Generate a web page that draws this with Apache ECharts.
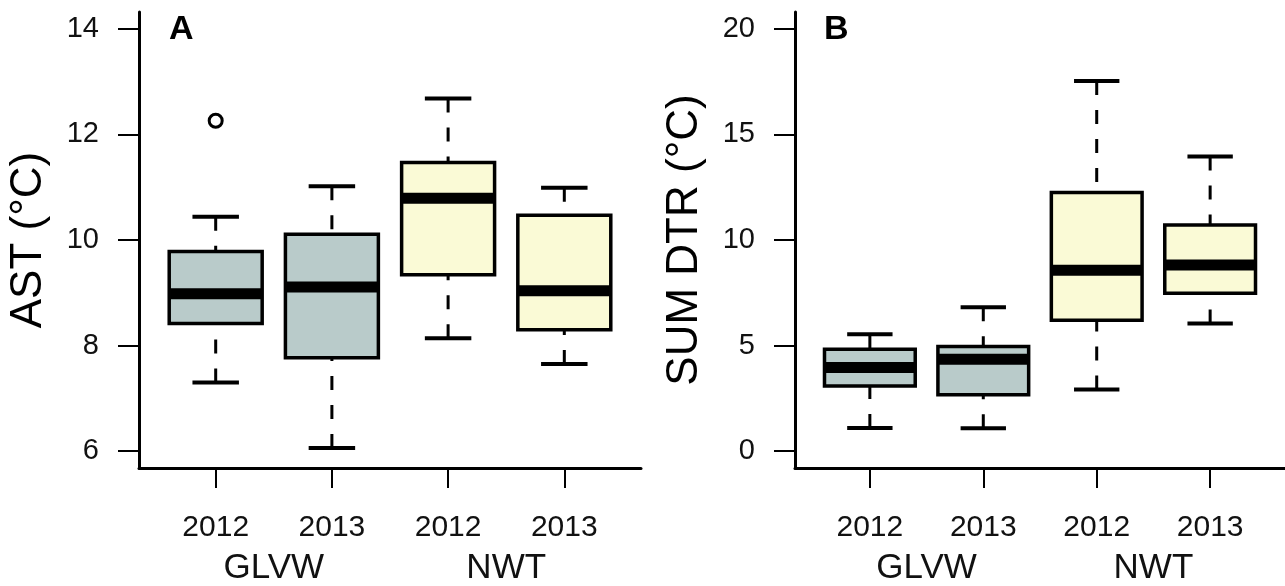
<!DOCTYPE html>
<html><head><meta charset="utf-8">
<script src="https://cdn.jsdelivr.net/npm/echarts@6/dist/echarts.min.js"></script>
<style>html,body{margin:0;padding:0;background:#fff}#c{width:1285px;height:586px}</style>
</head><body><div id="c"></div>
<script>
// ---- data ----
const yearLabels = ['2012', '2013', '2012', '2013'];
const siteLabels = ['GLVW', 'NWT'];
const sitePositions = [1.5, 3.5];
const boxPositions = [1, 2, 3, 4];
// each row: [min, q1, median, q3, max]
const astStats = [
  [7.30, 8.42, 8.98, 9.78, 10.44],
  [6.06, 7.77, 9.11, 10.11, 11.02],
  [8.14, 9.34, 10.79, 11.47, 12.68],
  [7.65, 8.30, 9.04, 10.47, 10.99]
];
const astOutliers = [[1, 12.26]];
const dtrStats = [
  [1.09, 3.08, 3.96, 4.82, 5.53],
  [1.08, 2.67, 4.35, 4.96, 6.82],
  [2.92, 6.20, 8.57, 12.25, 17.53],
  [6.05, 7.48, 8.81, 10.71, 13.96]
];
const dtrOutliers = [];
const astTicks = [6, 8, 10, 12, 14];
const dtrTicks = [0, 5, 10, 15, 20];
const boxColors = ['#b9cbca', '#b9cbca', '#fafad6', '#fafad6'];

// ---- chart ----
const FONT = '"Liberation Sans", Arial, sans-serif';
const chart = echarts.init(document.getElementById('c'), null, {renderer: 'canvas'});

function renderBox(params, api) {
  const x = api.value(0);
  const mn = api.value(1), q1 = api.value(2), md = api.value(3), q3 = api.value(4), mx = api.value(5);
  const tl = api.coord([x - 0.4, q3]);
  const br = api.coord([x + 0.4, q1]);
  const mL = api.coord([x - 0.4, md]);
  const mR = api.coord([x + 0.4, md]);
  const top = api.coord([x, mx]);
  const bot = api.coord([x, mn]);
  const q3p = api.coord([x, q3]);
  const q1p = api.coord([x, q1]);
  const capTL = api.coord([x - 0.2, mx]);
  const capTR = api.coord([x + 0.2, mx]);
  const capBL = api.coord([x - 0.2, mn]);
  const capBR = api.coord([x + 0.2, mn]);
  const dashStyle = {stroke: '#000', lineWidth: 3, lineDash: [14, 15], fill: null};
  const capStyle = {stroke: '#000', lineWidth: 4, fill: null};
  return {
    type: 'group',
    children: [
      {type: 'line', shape: {x1: top[0], y1: top[1], x2: q3p[0], y2: q3p[1]}, style: dashStyle},
      {type: 'line', shape: {x1: bot[0], y1: bot[1], x2: q1p[0], y2: q1p[1]}, style: dashStyle},
      {type: 'line', shape: {x1: capTL[0], y1: capTL[1], x2: capTR[0], y2: capTR[1]}, style: capStyle},
      {type: 'line', shape: {x1: capBL[0], y1: capBL[1], x2: capBR[0], y2: capBR[1]}, style: capStyle},
      {type: 'rect', shape: {x: tl[0], y: tl[1], width: br[0] - tl[0], height: br[1] - tl[1]},
        style: {fill: boxColors[params.dataIndex], stroke: '#000', lineWidth: 3.5}},
      {type: 'line', shape: {x1: mL[0] + 1, y1: mL[1], x2: mR[0] - 1, y2: mR[1]},
        style: {stroke: '#000', lineWidth: 11, fill: null}}
    ]
  };
}

function yAxisCfg(grid, min, max, ticks, name) {
  return {
    gridIndex: grid, type: 'value', min: min, max: max,
    splitLine: {show: false},
    axisLine: {show: true, onZero: false, lineStyle: {color: '#000', width: 3}},
    axisTick: {show: true, length: 21, customValues: ticks, lineStyle: {color: '#000', width: 2}},
    axisLabel: {customValues: ticks, fontSize: 29, color: '#111', margin: 40, fontFamily: FONT},
    name: name, nameLocation: 'middle', nameGap: 88,
    nameTextStyle: {fontSize: 44, color: '#000', fontFamily: FONT}
  };
}
function xYearAxis(grid) {
  return {
    gridIndex: grid, type: 'value', min: 0.34, max: 4.66, position: 'bottom',
    splitLine: {show: false},
    axisLine: {show: true, onZero: false, lineStyle: {color: '#000', width: 3}},
    axisTick: {show: true, length: 20, customValues: boxPositions, lineStyle: {color: '#000', width: 2}},
    axisLabel: {customValues: boxPositions, fontSize: 30, color: '#111', margin: 45, fontFamily: FONT,
      formatter: v => yearLabels[Math.round(v) - 1]}
  };
}
function xSiteAxis(grid) {
  return {
    gridIndex: grid, type: 'value', min: 0.34, max: 4.66, position: 'bottom',
    splitLine: {show: false}, axisLine: {show: false}, axisTick: {show: false},
    axisLabel: {customValues: sitePositions, fontSize: 35, color: '#111', margin: 83, fontFamily: FONT,
      formatter: v => siteLabels[Math.round((v - 1.5) / 2)]}
  };
}

const boxData = s => s.map((r, i) => [boxPositions[i]].concat(r));
const outlierStyle = {color: 'rgba(0,0,0,0)', borderColor: '#000', borderWidth: 3, opacity: 1};

chart.setOption({
  animation: false,
  backgroundColor: '#fff',
  title: [
    {text: 'A', left: 169, top: 13, padding: 0, textStyle: {fontSize: 34, fontWeight: 'bold', color: '#000', fontFamily: FONT}},
    {text: 'B', left: 824, top: 13, padding: 0, textStyle: {fontSize: 34, fontWeight: 'bold', color: '#000', fontFamily: FONT}}
  ],
  grid: [
    {left: 139, top: 12, width: 502, height: 459},
    {left: 795, top: 12, width: 499, height: 459}
  ],
  xAxis: [xYearAxis(0), xSiteAxis(0), xYearAxis(1), xSiteAxis(1)],
  yAxis: [yAxisCfg(0, 5.68, 14.32, astTicks, 'AST (°C)'), yAxisCfg(1, -0.8, 20.8, dtrTicks, 'SUM DTR (°C)')],
  series: [
    {type: 'custom', xAxisIndex: 0, yAxisIndex: 0, renderItem: renderBox, clip: false,
      encode: {x: 0, y: [1, 2, 3, 4, 5]}, data: boxData(astStats)},
    {type: 'custom', xAxisIndex: 2, yAxisIndex: 1, renderItem: renderBox, clip: false,
      encode: {x: 0, y: [1, 2, 3, 4, 5]}, data: boxData(dtrStats)},
    {type: 'scatter', xAxisIndex: 0, yAxisIndex: 0, symbol: 'circle', symbolSize: 13,
      itemStyle: outlierStyle, data: astOutliers},
    {type: 'scatter', xAxisIndex: 2, yAxisIndex: 1, symbol: 'circle', symbolSize: 13,
      itemStyle: outlierStyle, data: dtrOutliers}
  ]
});
</script></body></html>
